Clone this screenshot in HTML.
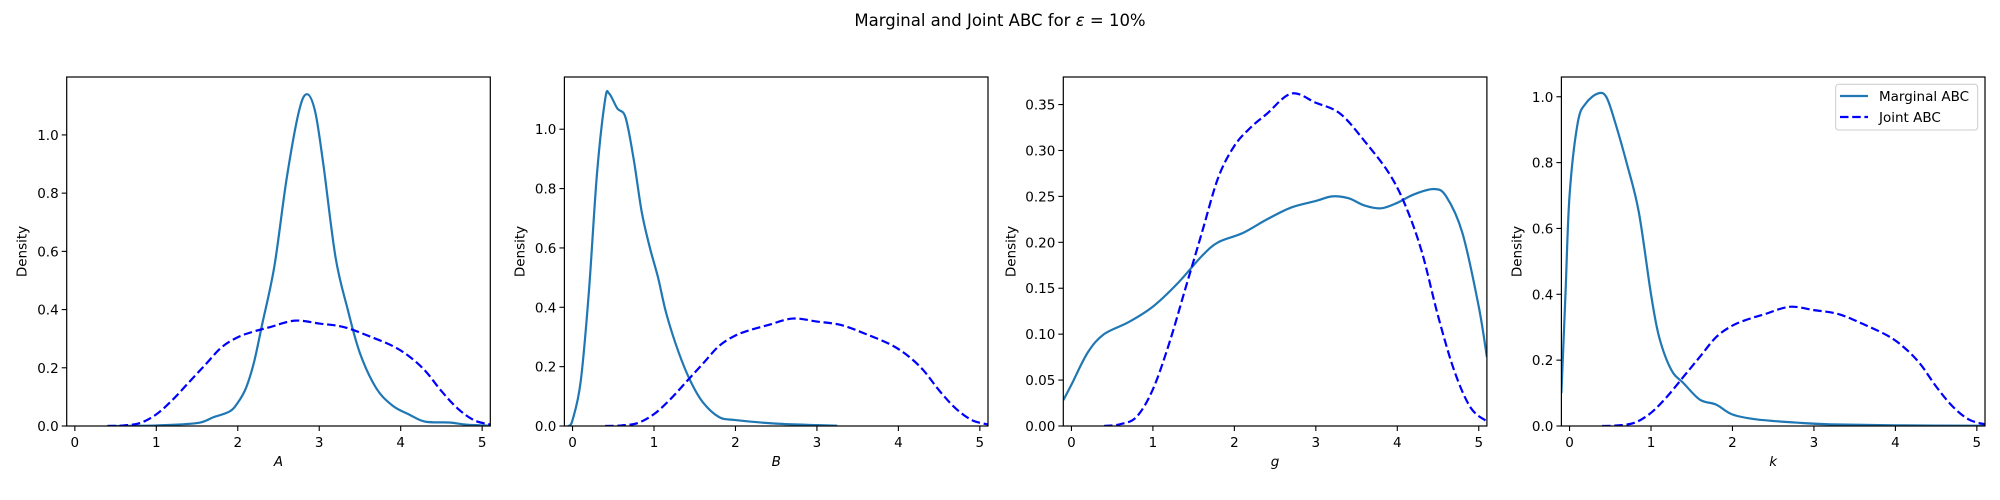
<!DOCTYPE html>
<html><head><meta charset="utf-8"><style>
body{margin:0;background:#fff}
svg{display:block;font-family:"DejaVu Sans","Liberation Sans",sans-serif}
</style></head><body>
<svg id="fig" width="2000" height="500" xmlns="http://www.w3.org/2000/svg">
<text x="1000" y="26" text-anchor="middle" font-size="16.5">Marginal and Joint ABC for <tspan font-style="italic">ε</tspan> =  10%</text>
</svg>
<script>
const jointX=[0.4,0.6,0.8,1.0,1.2,1.4,1.6,1.8,2.0,2.2,2.4,2.7,3.0,3.3,3.6,3.9,4.1,4.3,4.5,4.7,4.9,5.1];
const jointY=[0,0.002,0.01,0.04,0.09,0.15,0.21,0.27,0.305,0.325,0.34,0.362,0.352,0.34,0.31,0.275,0.24,0.19,0.12,0.06,0.02,0.005];
const margAX=[0.4,1.0,1.5,1.7,1.9,2.0,2.1,2.2,2.3,2.45,2.6,2.75,2.85,2.95,3.05,3.2,3.35,3.5,3.7,3.9,4.1,4.3,4.6,4.8,5.1];
const margAY=[0,0.002,0.01,0.03,0.05,0.08,0.13,0.22,0.35,0.55,0.85,1.08,1.14,1.08,0.9,0.58,0.4,0.25,0.13,0.07,0.04,0.015,0.012,0.005,0.001];
const margBX=[-0.05,0.0,0.1,0.2,0.3,0.4,0.45,0.55,0.65,0.75,0.85,0.95,1.05,1.15,1.3,1.45,1.6,1.8,2.0,2.5,3.0,3.25];
const margBY=[0,0.02,0.15,0.45,0.85,1.1,1.12,1.07,1.04,0.9,0.72,0.6,0.5,0.38,0.25,0.15,0.08,0.03,0.02,0.008,0.003,0.001];
const margGX=[-0.1,0.0,0.2,0.4,0.7,1.0,1.3,1.6,1.8,2.1,2.4,2.7,3.0,3.2,3.4,3.6,3.8,4.0,4.2,4.45,4.6,4.8,5.0,5.1];
const margGY=[0.028,0.045,0.08,0.1,0.113,0.13,0.155,0.185,0.2,0.21,0.225,0.238,0.245,0.25,0.248,0.24,0.237,0.243,0.252,0.258,0.25,0.21,0.13,0.075];
const margKX=[-0.1,-0.05,0.0,0.1,0.2,0.35,0.45,0.55,0.7,0.85,1.0,1.1,1.25,1.4,1.6,1.8,2.0,2.3,2.8,3.2,4.0,5.1];
const margKY=[0.1,0.4,0.7,0.92,0.98,1.01,1.0,0.93,0.8,0.65,0.4,0.27,0.17,0.13,0.08,0.065,0.035,0.02,0.01,0.005,0.002,0.001];
const xTicks=[0,1,2,3,4,5];
const yTicks1=[0,0.2,0.4,0.6,0.8,1.0];
const yTicks3=[0,0.05,0.1,0.15,0.2,0.25,0.3,0.35];
const panelLabels=['A','B','g','k'];
const yMaxes=[1.199,1.176,0.38,1.06];

const NS='http://www.w3.org/2000/svg';
const svg=document.getElementById('fig');
function mk(tag,attrs,parent){const e=document.createElementNS(NS,tag);for(const k in attrs)e.setAttribute(k,attrs[k]);(parent||svg).appendChild(e);return e;}
function smoothPath(pts){
  let d='M'+pts[0][0].toFixed(2)+','+pts[0][1].toFixed(2);
  for(let i=0;i<pts.length-1;i++){
    const p0=pts[Math.max(0,i-1)],p1=pts[i],p2=pts[i+1],p3=pts[Math.min(pts.length-1,i+2)];
    const c1=[p1[0]+(p2[0]-p0[0])/6,p1[1]+(p2[1]-p0[1])/6];
    const c2=[p2[0]-(p3[0]-p1[0])/6,p2[1]-(p3[1]-p1[1])/6];
    d+=' C'+c1[0].toFixed(2)+','+c1[1].toFixed(2)+' '+c2[0].toFixed(2)+','+c2[1].toFixed(2)+' '+p2[0].toFixed(2)+','+p2[1].toFixed(2);
  }
  return d;
}
const lefts=[66.7,564.4,1063.3,1561.4];
const W=423.6, TOP=77, BOT=426;
const xMin=-0.1,xMax=5.1;
const FS=13.5;
const margX=[margAX,margBX,margGX,margKX], margY=[margAY,margBY,margGY,margKY];
for(let p=0;p<4;p++){
  const L=lefts[p], ymax=yMaxes[p];
  const sx=v=>L+(v-xMin)/(xMax-xMin)*W;
  const sy=v=>BOT-v/ymax*(BOT-TOP);
  const g=mk('g',{});
  
  
  const clipId='clip'+p;
  const cp=mk('clipPath',{id:clipId},g);
  mk('rect',{x:L,y:TOP,width:W,height:BOT-TOP},cp);
  const lines=mk('g',{'clip-path':'url(#'+clipId+')'},g);
  const mp=mk('path',{d:smoothPath(margX[p].map((x,i)=>[sx(x),sy(margY[p][i])])),fill:'none',stroke:'#1f77b4','stroke-width':2.2,'stroke-linejoin':'round'},lines);
  
  
  const jp=mk('path',{d:smoothPath(jointX.map((x,i)=>[sx(x),sy(jointY[i])])),fill:'none',stroke:'#0000ff','stroke-width':2.2,'stroke-dasharray':'8.5,3.7'},lines);
  
  
  const fr=mk('rect',{x:L,y:TOP,width:W,height:BOT-TOP,fill:'none',stroke:'#000','stroke-width':1.2},g);
  
  
  xTicks.forEach(t=>{
    mk('line',{x1:sx(t),x2:sx(t),y1:BOT,y2:BOT+5,stroke:'#000','stroke-width':1.1},g);
    const tx=mk('text',{x:sx(t),y:BOT+21,'text-anchor':'middle','font-size':FS},g);
    tx.textContent=String(t);
    
    
  });
  const yt=p===2?yTicks3:yTicks1;
  yt.forEach(t=>{
    mk('line',{x1:L-5,x2:L,y1:sy(t),y2:sy(t),stroke:'#000','stroke-width':1.1},g);
    const tx=mk('text',{x:L-8,y:sy(t)+5,'text-anchor':'end','font-size':FS},g);
    tx.textContent=p===2?t.toFixed(2):t.toFixed(1);
    
    
  });
  const xl=mk('text',{x:L+W/2,y:466,'text-anchor':'middle','font-size':FS,'font-style':'italic'},g);
  xl.textContent=panelLabels[p];
  
  
  const off=p===2?53:45;
  const yl=mk('text',{x:0,y:0,'text-anchor':'middle','font-size':FS,transform:'translate('+(L-off+5)+','+((TOP+BOT)/2)+') rotate(-90)'},g);
  yl.textContent='Density';
  
  
}
// legend
const lg=mk('g',{});


mk('rect',{x:1835.7,y:84.3,width:142,height:45.7,rx:3,fill:'#fff',stroke:'#ccc','stroke-width':1},lg);
mk('line',{x1:1840,x2:1868,y1:96,y2:96,stroke:'#1f77b4','stroke-width':2.2},lg);
mk('line',{x1:1840,x2:1868,y1:117,y2:117,stroke:'#0000ff','stroke-width':2.2,'stroke-dasharray':'8.5,3.7'},lg);
const t1=mk('text',{x:1879,y:101,'font-size':FS},lg);t1.textContent='Marginal ABC';


const t2=mk('text',{x:1879,y:122,'font-size':FS},lg);t2.textContent='Joint ABC';


</script>
</body></html>
